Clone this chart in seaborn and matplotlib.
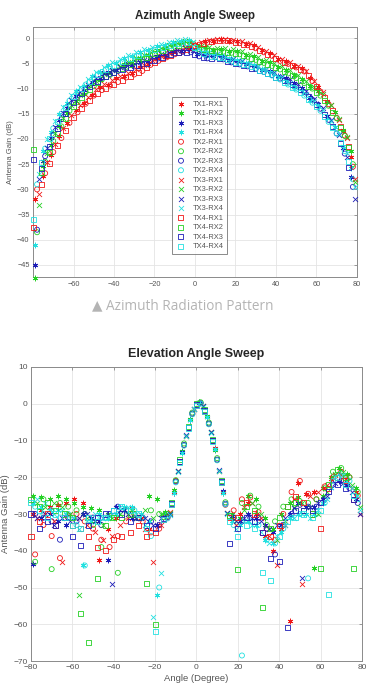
import pandas as pd
import seaborn as sns
import matplotlib.pyplot as plt

# sweep angles (deg); each TX was sampled on its own 4-degree grid, offset by 1 degree
tx1_angle = list(range(-79, 78, 4))
tx2_angle = list(range(-78, 79, 4))
tx3_angle = list(range(-77, 80, 4))
tx4_angle = list(range(-80, 77, 4))

tx_names = ['TX1', 'TX2', 'TX3', 'TX4']
rx_names = ['RX1', 'RX2', 'RX3', 'RX4']
rx_colors = ['#f01818', '#24d024', '#1c1cb8', '#22e0e0']
tx_markers = [(6, 2, 0), 'o', 'x', 's']

# ---------------- Azimuth sweep (dB) ----------------
az_tx1_rx1 = [-32, -27.4, -23.2, -19.5, -16.9, -14.2, -12.9, -11.3, -9.7, -9.2, -8.0, -7.6, -7.0, -5.8, -5.2, -4.0, -3.7, -2.8, -2.5, -1.6,
              -1.3, -0.6, -0.5, -0.2, -0.5, -0.5, -1.1, -1.4, -2.4, -3.0, -4.1, -4.6, -5.5, -6.0, -7.9, -9.6, -12.4, -14.6, -18.4, -23.5]
az_tx1_rx2 = [-47.5, -25.3, -21.2, -17.5, -14.9, -12.4, -11.0, -9.1, -8.3, -6.9, -6.3, -5.2, -4.8, -3.9, -3.3, -2.4, -2.0, -1.3, -1.0, -0.7,
              -1.6, -1.8, -2.3, -2.2, -2.6, -2.6, -3.3, -3.6, -4.5, -4.8, -5.7, -6.3, -7.4, -8.1, -9.5, -10.4, -12.7, -14.7, -18.3, -22.4]
az_tx1_rx3 = [-45.0, -24.3, -19.9, -16.3, -13.9, -11.5, -10.3, -8.6, -7.9, -6.8, -6.4, -5.6, -5.4, -4.8, -4.5, -3.6, -3.3, -2.6, -2.5, -2.2,
              -3.1, -3.4, -3.6, -3.6, -4.4, -4.6, -5.2, -5.5, -6.3, -6.6, -7.5, -7.9, -8.9, -9.8, -11.6, -13.0, -15.4, -17.6, -21.8, -27.5]
az_tx1_rx4 = [-41.0, -22.4, -18.7, -15.1, -12.8, -10.5, -9.4, -7.6, -6.8, -5.4, -4.9, -3.9, -3.5, -2.7, -2.4, -1.6, -1.4, -0.8, -0.6, -0.3,
              -2.0, -2.7, -3.4, -3.4, -4.2, -4.4, -5.0, -5.3, -6.2, -6.7, -7.7, -8.4, -9.7, -10.5, -12.2, -13.4, -15.8, -17.7, -21.3, -25.8]
az_tx2_rx1 = [-30, -26.8, -22.6, -19.8, -16.8, -14.7, -13.0, -11.4, -10.3, -9.4, -8.7, -7.8, -7.2, -6.5, -5.3, -4.5, -3.8, -3.2, -2.6, -2.0,
              -1.3, -0.9, -0.6, -0.5, -0.6, -1.0, -1.4, -2.0, -2.8, -3.5, -4.5, -5.1, -5.8, -6.6, -8.5, -10.6, -13.1, -15.8, -19.3, -25.5]
az_tx2_rx2 = [-38.5, -24.5, -20.4, -17.5, -14.4, -12.7, -10.7, -9.5, -8.2, -7.3, -6.4, -5.7, -4.9, -4.2, -3.4, -2.8, -2.2, -1.7, -1.2, -1.1,
              -2.2, -2.4, -2.6, -2.7, -2.9, -3.2, -3.7, -4.3, -4.9, -5.5, -6.2, -7.0, -7.9, -8.9, -10.0, -11.4, -13.4, -15.9, -19.4, -25.0]
az_tx2_rx3 = [-38.0, -23.4, -19.2, -16.1, -13.4, -11.6, -10.1, -8.9, -7.9, -7.1, -6.5, -6.0, -5.6, -5.2, -4.6, -4.0, -3.4, -3.0, -2.7, -2.8,
              -3.6, -4.0, -3.8, -4.2, -4.8, -5.2, -5.6, -6.1, -6.7, -7.3, -8.0, -8.6, -9.4, -10.7, -12.2, -14.0, -16.2, -18.9, -22.9, -29.5]
az_tx2_rx4 = [-29.0, -21.9, -17.9, -15.0, -12.4, -10.7, -9.2, -7.8, -6.7, -5.7, -5.0, -4.3, -3.6, -3.1, -2.5, -2.0, -1.6, -1.2, -0.8, -0.9,
              -2.8, -3.4, -3.7, -4.0, -4.6, -5.0, -5.4, -6.0, -6.7, -7.4, -8.2, -9.2, -10.2, -11.4, -12.8, -14.4, -16.6, -18.9, -22.4, -28.0]
az_tx3_rx1 = [-31, -24.6, -21.0, -17.9, -15.2, -13.3, -11.6, -10.1, -9.1, -8.3, -7.5, -6.9, -6.2, -5.3, -4.4, -3.6, -3.0, -2.4, -1.8, -1.2,
              -0.7, -0.3, -0.2, -0.1, -0.3, -0.6, -1.0, -1.7, -2.5, -3.3, -4.2, -4.8, -5.5, -6.6, -8.5, -10.7, -13.3, -16.2, -19.8, -28.0]
az_tx3_rx2 = [-33.0, -22.7, -18.9, -15.8, -13.2, -11.3, -9.7, -8.4, -7.2, -6.3, -5.5, -4.7, -4.0, -3.3, -2.5, -1.9, -1.4, -0.9, -0.5, -0.8,
              -1.5, -1.7, -1.9, -2.0, -2.2, -2.6, -3.1, -3.7, -4.3, -4.9, -5.6, -6.4, -7.4, -8.4, -9.6, -11.1, -13.2, -16.0, -19.6, -28.5]
az_tx3_rx3 = [-28.0, -21.7, -17.7, -14.8, -12.3, -10.6, -9.2, -8.0, -7.0, -6.3, -5.7, -5.2, -4.8, -4.4, -3.8, -3.2, -2.7, -2.3, -2.0, -2.3,
              -3.0, -3.3, -3.2, -3.7, -4.2, -4.6, -5.0, -5.6, -6.2, -6.8, -7.5, -8.1, -9.0, -10.4, -12.0, -13.9, -16.2, -19.2, -23.5, -32.0]
az_tx3_rx4 = [-27.0, -20.1, -16.4, -13.6, -11.2, -9.6, -8.1, -6.8, -5.7, -4.8, -4.1, -3.4, -2.8, -2.2, -1.7, -1.2, -0.8, -0.4, -0.1, -0.7,
              -2.3, -2.8, -3.1, -3.5, -4.0, -4.4, -4.9, -5.5, -6.2, -6.9, -7.8, -8.8, -9.8, -11.1, -12.5, -14.3, -16.5, -19.1, -22.7, -29.5]
az_tx4_rx1 = [-37.5, -29.0, -24.8, -21.3, -18.3, -15.8, -13.9, -12.3, -10.9, -9.9, -9.1, -8.3, -7.6, -6.8, -5.8, -4.9, -4.1, -3.5, -2.9, -2.2,
              -1.5, -1.0, -0.7, -0.5, -0.5, -0.8, -1.2, -1.7, -2.4, -3.2, -4.0, -4.9, -5.5, -6.2, -7.5, -9.5, -11.8, -14.4, -17.6, -21.5]
az_tx4_rx2 = [-22.0, -26.6, -22.6, -19.0, -16.0, -13.6, -11.7, -10.1, -8.8, -7.7, -6.8, -6.0, -5.2, -4.5, -3.8, -3.1, -2.5, -1.9, -1.4, -1.2,
              -1.8, -2.3, -2.5, -2.6, -2.8, -3.0, -3.4, -4.0, -4.6, -5.2, -5.9, -6.6, -7.5, -8.4, -9.5, -10.7, -12.4, -14.7, -17.7, -21.6]
az_tx4_rx3 = [-24.0, -25.8, -21.5, -17.9, -15.0, -12.7, -11.0, -9.6, -8.5, -7.6, -6.9, -6.3, -5.9, -5.5, -5.0, -4.4, -3.8, -3.3, -2.9, -2.9,
              -3.3, -3.9, -4.0, -4.1, -4.6, -5.1, -5.5, -6.0, -6.5, -7.1, -7.8, -8.4, -9.1, -10.1, -11.5, -13.1, -15.1, -17.6, -20.9, -25.6]
az_tx4_rx4 = [-36.0, -24.6, -20.0, -16.5, -13.8, -11.6, -10.0, -8.5, -7.3, -6.2, -5.4, -4.7, -4.0, -3.4, -2.8, -2.3, -1.8, -1.4, -1.0, -0.9,
              -1.9, -3.1, -3.6, -3.9, -4.3, -4.8, -5.2, -5.7, -6.4, -7.1, -7.8, -8.7, -9.7, -10.8, -12.1, -13.6, -15.5, -17.8, -20.7, -24.5]

# ---------------- Elevation sweep (dB) ----------------
el_tx1_rx1 = [-30, -29, -28, -27.5, -27, -26, -27, -31, -42.5, -34, -31, -29, -28.5, -31, -34, -33, -30, -24, -13, -4.5,
              0.4, -3.5, -12, -24, -31, -30, -27, -30, -36, -40, -34, -59, -21.5, -24.5, -24, -23, -20.5, -19, -20.5, -24]
el_tx1_rx2 = [-25, -25.5, -26, -25, -26, -27, -28, -28.5, -29, -30, -28, -29, -29, -30, -25, -26, -29.5, -23.6, -12.8, -4.2,
              0.6, -3.3, -12.5, -24.2, -30, -31, -25, -26, -31, -34, -30, -27, -25.5, -28, -44.7, -25, -20, -17.5, -19, -23]
el_tx1_rx3 = [-43.5, -31, -30, -32, -33, -31, -30, -31, -32, -42.5, -28, -29, -31, -30, -32, -33, -30.2, -24.2, -13.2, -4.4,
              0.3, -3.6, -12.2, -23.8, -30.5, -32, -30, -31, -33, -35, -33, -30, -27, -28, -28, -26, -23, -21, -22, -26]
el_tx1_rx4 = [-27, -28, -29, -29, -30, -31, -44, -32, -30, -31, -30, -28, -28, -30, -32, -52, -30.4, -24.4, -13.4, -4.5,
              0.5, -3.5, -12.4, -24.4, -32, -33, -32, -33, -37, -38, -35, -31, -30, -30, -30, -27, -23, -19, -21, -25]
el_tx2_rx1 = [-41, -33, -36, -42, -31, -30, -32, -34, -37, -39, -36, -32, -30, -32, -35, -34, -31, -21, -11.3, -2.8,
              0.2, -5.5, -15.3, -27.5, -29, -26, -25.5, -29.5, -34, -37, -30, -24, -21, -24.5, -26, -22.5, -20, -18.5, -20, -25]
el_tx2_rx2 = [-43, -26, -45, -27, -28, -29, -30, -33, -39, -31, -46, -29, -30, -31, -29, -30, -30.5, -20.8, -10.8, -2.4,
              0.4, -5.1, -14.8, -26.8, -31, -27, -25, -28, -33, -32, -28, -26, -26.5, -27, -26, -23, -18.5, -17.5, -20, -24]
el_tx2_rx3 = [-30, -31, -32, -37, -31, -32, -30, -31, -33, -30, -28, -29, -31, -31, -32, -33, -30.8, -21.2, -11.2, -2.7,
              0.1, -5.4, -15.2, -27.2, -31, -32, -31, -31, -34, -41, -33, -30, -27.5, -28, -28, -26, -22, -21, -23, -27]
el_tx2_rx4 = [-28, -30, -29, -31, -30, -33, -44, -32, -31, -31, -30, -29, -29, -31, -36, -50, -31.2, -21.4, -11.4, -2.9,
              0.1, -5.6, -15.4, -27.4, -33, -68.5, -32, -33, -37, -38, -34, -31, -30, -47.5, -30, -27, -21, -19, -21, -26]
el_tx3_rx1 = [-31, -30, -32, -43, -30, -31, -33, -35, -37, -36, -33, -31, -31, -34, -43, -33, -29.5, -18.3, -8.8, -1.4,
              -0.7, -7.8, -18.3, -29.8, -33, -28, -27, -31, -36, -44, -33, -26, -49, -25, -24, -22, -19.5, -20, -23, -30]
el_tx3_rx2 = [-27, -28, -27, -28, -30, -52, -31, -32, -33, -31, -30, -30, -31, -29, -31, -30, -29.8, -18.2, -8.7, -1.3,
              -0.6, -7.6, -18.2, -29.7, -32, -29, -27, -30, -34, -37, -32, -28, -27, -28, -30, -24, -19, -18.5, -22, -28]
el_tx3_rx3 = [-31, -30, -33, -31, -32, -31, -30, -32, -31, -49, -29, -30, -31, -31, -33, -31, -30, -18.4, -8.6, -1.3,
              -0.6, -7.7, -18.1, -29.6, -32, -31, -31, -32, -34, -33, -31, -28.5, -47.5, -28, -27, -25, -21.5, -21.5, -24, -30]
el_tx3_rx4 = [-26, -27, -30, -29, -31, -34, -32, -30, -31, -30, -28, -28, -30, -33, -58, -46, -30.2, -18.6, -8.8, -1.5,
              -0.8, -7.9, -18.4, -30, -34, -32, -33, -35, -38, -36, -33, -31, -30, -31, -29, -26, -20, -19.5, -23, -29]
el_tx4_rx1 = [-36, -32, -30, -33, -31, -33, -34, -36, -39, -40, -37, -36, -35, -33, -36, -35, -31.5, -27.3, -15.8, -6.5,
              -0.4, -2, -10, -21.3, -31, -31, -27, -30, -35, -36, -33, -28, -25.3, -27, -30, -34, -23, -20, -21, -26]
el_tx4_rx2 = [-26, -28, -27, -29, -30, -31, -57, -65, -47.5, -33, -31, -31, -30, -31, -49, -60, -30.8, -26.8, -15.3, -6.1,
              0, -1.7, -9.6, -20.8, -30.5, -45, -28, -29, -55.5, -34, -31, -28, -27, -29, -30, -44.7, -22, -18, -20, -44.7]
el_tx4_rx3 = [-30, -34, -32, -33, -31, -36, -38.5, -33, -31, -30, -29, -30, -32, -31, -33, -34, -31.2, -27.2, -15.6, -6.4,
              -0.3, -1.9, -9.9, -21.2, -38, -34, -31, -32, -35, -42, -43, -61, -29, -29, -29, -27, -24, -22, -23, -26]
el_tx4_rx4 = [-27, -29, -31, -30, -31, -33, -34, -31, -32, -31, -29, -28, -29, -30, -34, -62, -31.5, -27.5, -16, -6.6,
              -0.5, -2.1, -10.2, -21.5, -32, -36, -33, -34, -46, -48, -36, -32, -31, -30, -31, -29, -52, -20, -22, -25]

angles = [tx1_angle, tx2_angle, tx3_angle, tx4_angle]
az_data = [[az_tx1_rx1, az_tx1_rx2, az_tx1_rx3, az_tx1_rx4],
           [az_tx2_rx1, az_tx2_rx2, az_tx2_rx3, az_tx2_rx4],
           [az_tx3_rx1, az_tx3_rx2, az_tx3_rx3, az_tx3_rx4],
           [az_tx4_rx1, az_tx4_rx2, az_tx4_rx3, az_tx4_rx4]]
el_data = [[el_tx1_rx1, el_tx1_rx2, el_tx1_rx3, el_tx1_rx4],
           [el_tx2_rx1, el_tx2_rx2, el_tx2_rx3, el_tx2_rx4],
           [el_tx3_rx1, el_tx3_rx2, el_tx3_rx3, el_tx3_rx4],
           [el_tx4_rx1, el_tx4_rx2, el_tx4_rx3, el_tx4_rx4]]

sns.set_style('white')
plt.rcParams['font.family'] = ['Liberation Sans', 'DejaVu Sans']


def draw_sweep(ax, data, legend):
    for ti, tx in enumerate(tx_names):
        for ri, rx in enumerate(rx_names):
            df = pd.DataFrame({'angle': angles[ti], 'gain': data[ti][ri]})
            m = tx_markers[ti]
            c = rx_colors[ri]
            if m in ('o', 's'):
                kw = dict(color=c, facecolor='none', edgecolor=c, linewidth=0.6, s=13)
            else:
                kw = dict(color=c, linewidth=0.6, s=13)
            sns.scatterplot(data=df, x='angle', y='gain', marker=m, ax=ax,
                            label=tx + '-' + rx, legend=legend, clip_on=False, zorder=3, **kw)
    ax.grid(True, color='#e4e4e4', linewidth=0.6)
    ax.set_axisbelow(True)
    for sp in ax.spines.values():
        sp.set_color('#8a8a8a')
        sp.set_linewidth(0.7)
    ax.tick_params(direction='in', length=2.5, width=0.6, colors='#8a8a8a',
                   labelcolor='#555555', top=True, right=True, pad=2.5)


fig = plt.figure(figsize=(3.87, 6.91), dpi=100)
ax1 = fig.add_axes([0.0853, 0.599, 0.837, 0.3618])
ax2 = fig.add_axes([0.0801, 0.0434, 0.855, 0.4255])

# Azimuth
draw_sweep(ax1, az_data, True)
ax1.set_xlim(-80, 80)
ax1.set_ylim(-47.4, 2.2)
ax1.set_xticks(range(-60, 81, 20))
ax1.set_yticks(range(-45, 1, 5))
ax1.tick_params(labelsize=5.3)
ax1.set_xlabel('')
ax1.set_ylabel('Antenna Gain (dB)', fontsize=5.5, color='#555555', labelpad=2)
ax1.set_title('Azimuth Angle Sweep', fontsize=8.3, fontweight='bold', pad=6)
handles, labels = ax1.get_legend_handles_labels()
leg = ax1.legend(handles, labels, loc='upper left', bbox_to_anchor=(0.429, 0.72),
                 fontsize=5.4, frameon=True, fancybox=False, edgecolor='#555555',
                 labelspacing=0.3, handlelength=1.5, handletextpad=0.8,
                 borderpad=0.45, borderaxespad=0, markerscale=1.0)
leg.get_frame().set_linewidth(0.6)
for t in leg.get_texts():
    t.set_color('#555555')

fig.text(0.473, 1 - 306 / 691, '\u25b2 Azimuth Radiation Pattern', ha='center', va='center',
         fontsize=9.8, color='#b4b4b4', family=['Open Sans', 'DejaVu Sans'])

# Elevation
draw_sweep(ax2, el_data, False)
ax2.set_xlim(-80, 80)
ax2.set_ylim(-70, 10)
ax2.set_xticks(range(-80, 81, 20))
ax2.set_yticks(range(-70, 11, 10))
ax2.tick_params(labelsize=6)
ax2.set_xlabel('Angle (Degree)', fontsize=6.8, color='#555555', labelpad=2)
ax2.set_ylabel('Antenna Gain (dB)', fontsize=6.8, color='#555555', labelpad=2)
ax2.set_title('Elevation Angle Sweep', fontsize=9, fontweight='bold', pad=7)

fig.savefig('out.png', dpi=100)
